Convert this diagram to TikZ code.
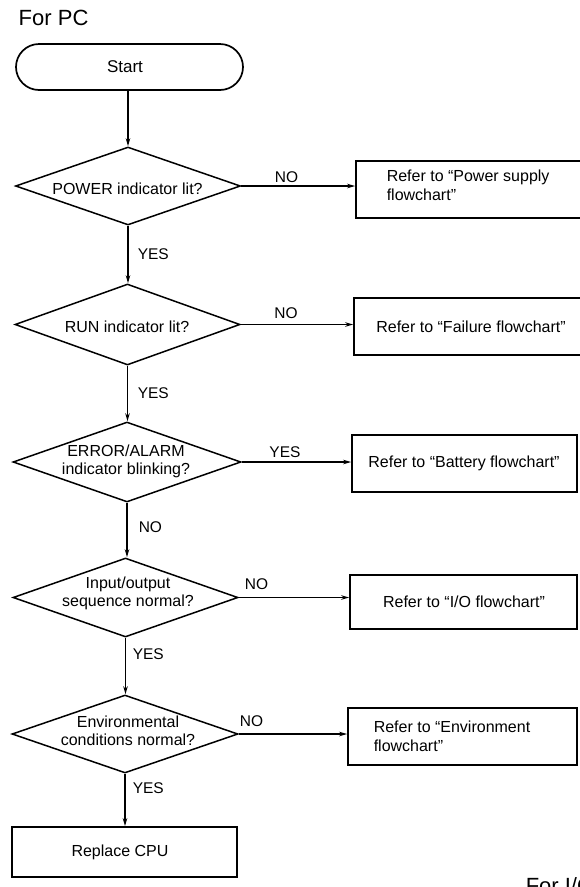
\documentclass[tikz,border=0pt]{standalone}
\usepackage{fontspec}
\setmainfont{Liberation Sans}
\usetikzlibrary{shapes.geometric,arrows.meta}
\begin{document}
\begin{tikzpicture}[x=1pt,y=-1pt,
  line width=1.5pt,
  txt/.style={font=\fontsize{16}{18}\selectfont, inner sep=0pt, align=center},
  ltxt/.style={font=\fontsize{16}{19}\selectfont, inner sep=0pt, align=left, anchor=west},
  lbl/.style={font=\fontsize{15.5}{18}\selectfont, inner sep=0pt},
  title/.style={font=\fontsize{22}{24}\selectfont, inner sep=0pt, anchor=base west},
  dec/.style={draw, diamond, inner sep=0pt},
  boxr/.style={draw, rectangle, inner sep=0pt, line width=1.7pt},
  arr/.style={-{Stealth[length=8pt,width=4.5pt]}}]
\useasboundingbox (0,0) rectangle (579,887);

\node[title] (forpc) at (18,25) {For PC};
\node[title] (forio) at (525,893) {For I/O};

% start
\node[draw, rectangle, rounded corners=23pt, minimum width=227pt, minimum height=46pt, line width=1.7pt] (start) at (129.5,67) {};
\node[txt, font=\fontsize{17}{19}\selectfont] (tstart) at (125,67) {Start};

% decisions
\node[dec, minimum width=225pt, minimum height=78pt] (d1) at (128,186) {};
\node[txt] (t1) at (127.5,189) {POWER indicator lit?};
\node[dec, minimum width=225pt, minimum height=81pt] (d2) at (127.5,324.5) {};
\node[txt] (t2) at (127,327) {RUN indicator lit?};
\node[dec, minimum width=228pt, minimum height=80pt] (d3) at (127,462) {};
\node[txt] (t3) at (126,461.5) {ERROR/ALARM\\indicator blinking?};
\node[dec, minimum width=225pt, minimum height=79pt] (d4) at (125.5,597.5) {};
\node[txt] (t4) at (128,593.5) {Input/output\\sequence normal?};
\node[dec, minimum width=226pt, minimum height=78pt] (d5) at (125,734) {};
\node[txt] (t5) at (128,730.5) {Environmental\\conditions normal?};

% boxes
\node[boxr, minimum width=226pt, minimum height=57pt] (b1) at (469,189.5) {};
\node[ltxt] (tb1) at (386,185.5) {Refer to ``Power supply\\flowchart''};
\node[boxr, minimum width=228pt, minimum height=57pt] (b2) at (468,326.5) {};
\node[txt] (tb2) at (471,327) {Refer to ``Failure flowchart''};
\node[boxr, minimum width=225pt, minimum height=57pt] (b3) at (464.5,463.5) {};
\node[txt] (tb3) at (464,463) {Refer to ``Battery flowchart''};
\node[boxr, minimum width=227pt, minimum height=54pt] (b4) at (463.5,602) {};
\node[txt] (tb4) at (464,602) {Refer to ``I/O flowchart''};
\node[boxr, minimum width=229pt, minimum height=57pt] (b5) at (462.5,736.5) {};
\node[ltxt] (tb5) at (373,736.5) {Refer to ``Environment\\flowchart''};
\node[boxr, minimum width=225pt, minimum height=50pt] (cpu) at (124.5,852) {};
\node[txt] (tcpu) at (120,852) {Replace CPU};

% vertical connectors
\draw[arr] (d1.north |- start.south) -- (d1.north);
\draw[arr] (d1.south) -- (d1.south |- d2.north);
\draw[arr] (d2.south) -- (d2.south |- d3.north);
\draw[arr] (d3.south) -- (d3.south |- d4.north);
\draw[arr] (d4.south) -- (d4.south |- d5.north);
\draw[arr] (d5.south) -- (d5.south |- cpu.north);

% horizontal connectors
\draw[arr] (d1.east) -- (d1.east -| b1.west);
\draw[arr] (d2.east) -- (d2.east -| b2.west);
\draw[arr] (d3.east) -- (d3.east -| b3.west);
\draw[arr] (d4.east) -- (d4.east -| b4.west);
\draw[arr] (d5.east) -- (d5.east -| b5.west);

% labels
\node[lbl] (l1) at (286.5,177) {NO};
\node[lbl] (l2) at (286,313) {NO};
\node[lbl] (l3) at (285,452) {YES};
\node[lbl] (l4) at (256.5,584) {NO};
\node[lbl] (l5) at (251.5,721) {NO};
\node[lbl, anchor=west] (y1) at (137,254) {YES};
\node[lbl, anchor=west] (y2) at (137,393) {YES};
\node[lbl, anchor=west] (n3) at (138,527) {NO};
\node[lbl, anchor=west] (y4) at (132,654) {YES};
\node[lbl, anchor=west] (y5) at (132,788) {YES};
\end{tikzpicture}
\end{document}
